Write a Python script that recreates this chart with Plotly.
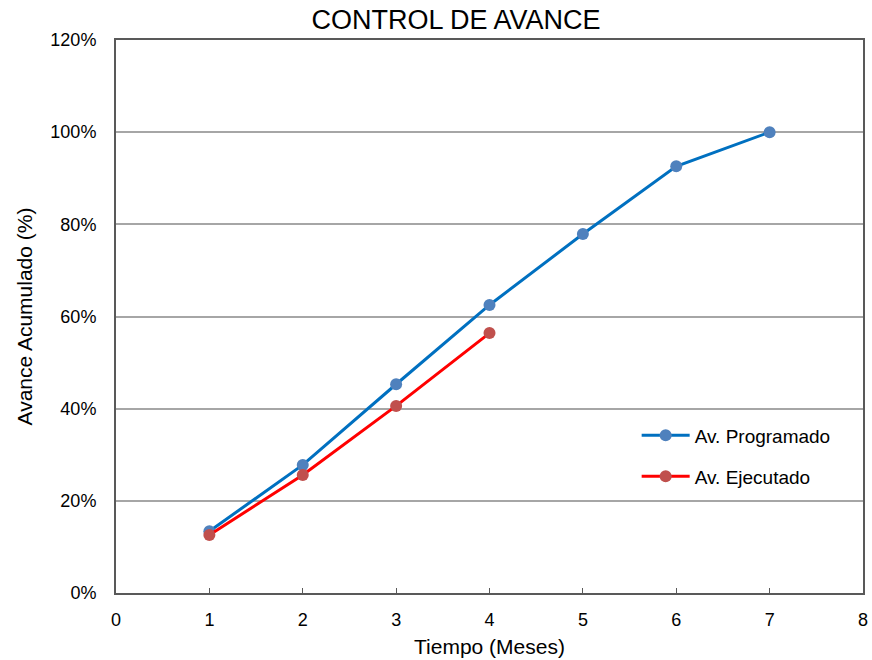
import plotly.graph_objects as go

meses_prog = [1, 2, 3, 4, 5, 6, 7]
av_programado = [13.4, 27.8, 45.3, 62.5, 77.9, 92.6, 100.0]
meses_ejec = [1, 2, 3, 4]
av_ejecutado = [12.6, 25.6, 40.6, 56.4]
y_ticks = [0, 20, 40, 60, 80, 100, 120]
y_labels = [f"{v}%" for v in y_ticks]
x_ticks = list(range(0, 9))

FONT = "Liberation Sans, Arial, sans-serif"

fig = go.Figure()
fig.add_trace(go.Scatter(
    x=meses_prog, y=av_programado, name="Av. Programado", mode="lines+markers",
    line=dict(color="#0070C0", width=3),
    marker=dict(color="#4F81BD", size=12), legend="legend", cliponaxis=False))
fig.add_trace(go.Scatter(
    x=meses_ejec, y=av_ejecutado, name="Av. Ejecutado", mode="lines+markers",
    line=dict(color="#FF0000", width=3),
    marker=dict(color="#C0504D", size=12), legend="legend2", cliponaxis=False))

fig.update_layout(
    width=872, height=660,
    margin=dict(l=116, r=9, t=40, b=67),
    paper_bgcolor="white", plot_bgcolor="white",
    font=dict(family=FONT, color="#000000", size=18),
    title=dict(text="CONTROL DE AVANCE", x=0.523, xanchor="center", y=0.970, yanchor="middle",
               font=dict(size=27, family=FONT, color="#000000")),
    legend=dict(x=0.697, y=0.285, xanchor="left", yanchor="middle", bgcolor="rgba(0,0,0,0)",
                font=dict(size=19, family=FONT), itemwidth=48),
    legend2=dict(x=0.697, y=0.211, xanchor="left", yanchor="middle", bgcolor="rgba(0,0,0,0)",
                 font=dict(size=19, family=FONT), itemwidth=48),
    showlegend=True,
)
fig.update_xaxes(
    range=[0, 8], tickvals=x_ticks, ticktext=[str(v) for v in x_ticks],
    showgrid=False, zeroline=False, automargin=False,
    showline=True, linecolor="#595959", linewidth=2, mirror=True,
    ticks="inside", ticklen=5, tickcolor="#595959", tickwidth=1,
    ticklabelstandoff=9,
    tickfont=dict(size=18, family=FONT, color="#000000"),
    title=dict(text="Tiempo (Meses)", font=dict(size=21, family=FONT, color="#000000"), standoff=11),
)
fig.update_yaxes(
    range=[0, 120], tickvals=y_ticks, ticktext=y_labels,
    showgrid=True, gridcolor="#A6A6A6", gridwidth=1.5, zeroline=False, automargin=False,
    showline=True, linecolor="#595959", linewidth=2, mirror=True,
    ticks="", ticklabelstandoff=14,
    tickfont=dict(size=18, family=FONT, color="#000000"),
    title=dict(text="Avance Acumulado (%)", font=dict(size=21, family=FONT, color="#000000"), standoff=12),
)

fig.write_html("out.html")
